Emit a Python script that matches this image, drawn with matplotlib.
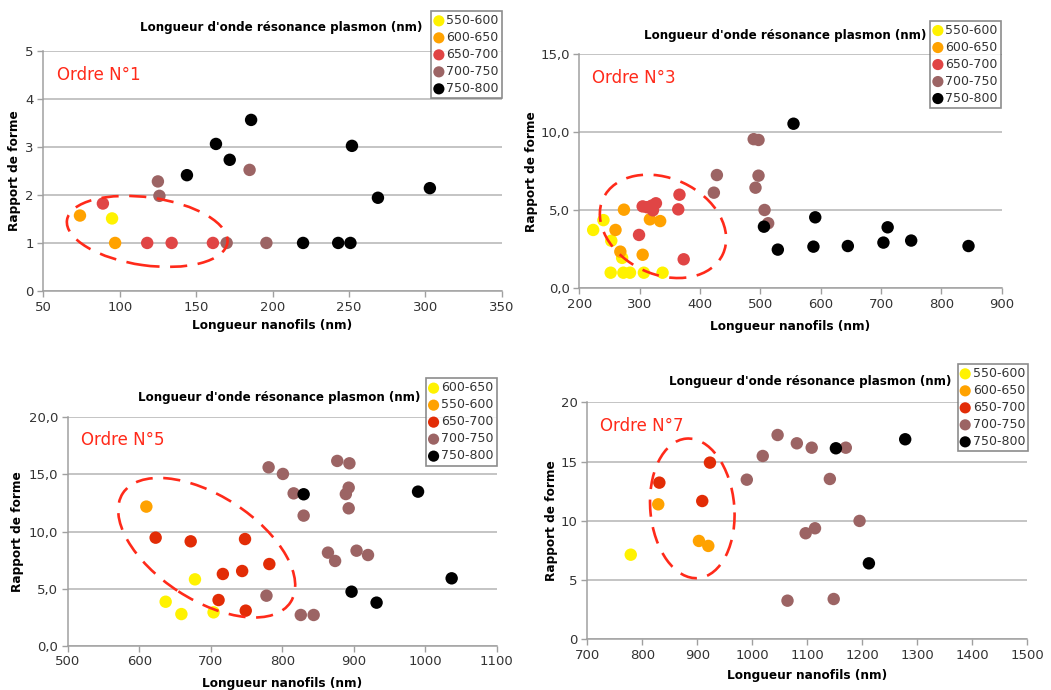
import matplotlib
matplotlib.use('Agg')
import matplotlib.pyplot as plt
from matplotlib.patches import Ellipse
from matplotlib.transforms import ScaledTranslation
from matplotlib.ticker import FuncFormatter

W, H = 1051, 690

YELLOW = '#fff200'
ORANGE = '#ffa200'
RED_A = '#e04545'
RED_B = '#e22c06'
BROWN = '#9c6464'
BLACK = '#000000'

# Ordre N°1
n1_labels = ['550-600', '600-650', '650-700', '700-750', '750-800']
n1_colors = [YELLOW, ORANGE, RED_A, BROWN, BLACK]
n1_x = [[95], [74, 97], [89, 118, 134, 161],
        [125, 126, 185, 170, 196],
        [186, 163, 172, 144, 252, 269, 303, 220, 243, 251]]
n1_y = [[1.51], [1.57, 1.0], [1.82, 1, 1, 1],
        [2.28, 1.98, 2.52, 1, 1],
        [3.56, 3.06, 2.73, 2.41, 3.02, 1.94, 2.14, 1, 1, 1]]

# Ordre N°3
n3_labels = ['550-600', '600-650', '650-700', '700-750', '750-800']
n3_colors = [YELLOW, ORANGE, RED_A, BROWN, BLACK]
n3_x = [[223, 240, 253, 271, 252, 273, 284, 307, 338],
        [274, 260, 268, 305, 317, 334],
        [305, 312, 320, 327, 322, 366, 364, 299, 373],
        [423, 428, 489, 497, 497, 492, 507, 513],
        [555, 506, 529, 591, 588, 645, 704, 711, 750, 845]]
n3_y = [[3.74, 4.37, 3.05, 1.95, 1, 1, 1, 1, 1],
        [5.04, 3.74, 2.35, 2.15, 4.42, 4.31],
        [5.25, 5.2, 5.3, 5.45, 5.0, 6.0, 5.06, 3.42, 1.86],
        [6.13, 7.26, 9.56, 9.51, 7.22, 6.45, 5.02, 4.17],
        [10.55, 3.95, 2.48, 4.55, 2.67, 2.71, 2.93, 3.91, 3.06, 2.71]]

# Ordre N°5 (legend labels as in the original: first two swapped)
n5_labels = ['600-650', '550-600', '650-700', '700-750', '750-800']
n5_colors = [YELLOW, ORANGE, RED_B, BROWN, BLACK]
n5_x = [[678, 637, 659, 704],
        [610],
        [623, 672, 748, 717, 744, 782, 711, 749],
        [781, 801, 816, 830, 877, 894, 893, 889, 893, 864, 874, 904, 920, 778, 826, 844],
        [830, 990, 897, 932, 1037]]
n5_y = [[5.81, 3.85, 2.77, 2.92],
        [12.18],
        [9.46, 9.14, 9.34, 6.28, 6.54, 7.15, 4.0, 3.07],
        [15.62, 15.04, 13.34, 11.39, 16.18, 15.97, 13.84, 13.28, 12.03, 8.15, 7.42, 8.32, 7.94, 4.38, 2.69, 2.69],
        [13.26, 13.49, 4.73, 3.77, 5.9]]

# Ordre N°7
n7_labels = ['550-600', '600-650', '650-700', '700-750', '750-800']
n7_colors = [YELLOW, ORANGE, RED_B, BROWN, BLACK]
n7_x = [[779], [829, 903, 920], [831, 909, 923],
        [990, 1019, 1046, 1081, 1108, 1170, 1141, 1097, 1114, 1195, 1064, 1148],
        [1152, 1278, 1212]]
n7_y = [[7.14], [11.39, 8.30, 7.88], [13.22, 11.67, 14.91],
        [13.47, 15.47, 17.24, 16.54, 16.17, 16.17, 13.53, 8.95, 9.37, 9.99, 3.26, 3.40],
        [16.12, 16.88, 6.41]]

TITLE = "Longueur d'onde résonance plasmon (nm)"
XLAB = 'Longueur nanofils (nm)'
YLAB = 'Rapport de forme'

fig = plt.figure(figsize=(W / 100, H / 100), dpi=100)
fig.patch.set_facecolor('white')


def fx(px):
    return px / W


def fy(py):
    return 1 - py / H


def comma(v, pos):
    return f'{v:.1f}'.replace('.', ',')


def panel(box, xs, ys, labels, colors, xlim, xticks, ylim, yticks, yfmt,
          order, title_xy, ylab_x, xlab_y, leg_corner, ell):
    l, r, t, b = box
    ax = fig.add_axes([fx(l), fy(b), (r - l) / W, (b - t) / H])
    for x, y, lab, c in zip(xs, ys, labels, colors):
        ax.scatter(x, y, s=80, color=c, label=lab, edgecolors='none', zorder=3)
    ax.set_xlim(*xlim)
    ax.set_ylim(*ylim)
    ax.set_xticks(xticks)
    ax.set_yticks(yticks)
    if yfmt:
        ax.yaxis.set_major_formatter(FuncFormatter(comma))
    ax.grid(axis='y', color='#b4b4b4', lw=1.1, zorder=0)
    ax.set_axisbelow(True)
    for s in ['top', 'right']:
        ax.spines[s].set_visible(False)
    for s in ['left', 'bottom']:
        ax.spines[s].set_color('#a0a0a0')
        ax.spines[s].set_linewidth(1.1)
    ax.tick_params(length=4, width=1, color='#a0a0a0', labelsize=9.5,
                   labelcolor='#333333', pad=3)
    ax.text(0.03, 0.9, order, transform=ax.transAxes, color='#ff2a1a',
            fontsize=12, va='center', ha='left')
    fig.text(fx(title_xy[0]), fy(title_xy[1]), TITLE, fontsize=8.6,
             fontweight='bold', ha='center', va='center')
    fig.text(fx(ylab_x), fy((t + b) / 2), YLAB, fontsize=8.7,
             fontweight='bold', ha='center', va='center', rotation=90)
    fig.text(fx((l + r) / 2), fy(xlab_y), XLAB, fontsize=8.7,
             fontweight='bold', ha='center', va='center')
    leg = ax.legend(loc='upper right', bbox_to_anchor=(fx(leg_corner[0]), fy(leg_corner[1])),
                    bbox_transform=fig.transFigure, fontsize=9, frameon=True,
                    fancybox=False, borderpad=0.25, labelspacing=0.32,
                    handlelength=0.7, handletextpad=0.25, borderaxespad=0,
                    markerscale=0.9, labelcolor='#333333')
    leg.get_frame().set_edgecolor('#707070')
    leg.get_frame().set_linewidth(1.2)
    # dashed ellipse: centre in data units, semi-axes in pixels
    cx, cy, a, bb, ang = ell
    tr = fig.dpi_scale_trans + ScaledTranslation(cx, cy, ax.transData)
    e = Ellipse((0, 0), 2 * a / 100, 2 * bb / 100, angle=ang, transform=tr,
                fill=False, edgecolor='#ff2a1a', lw=1.9,
                linestyle=(0, (6.5, 4.0)), zorder=4, clip_on=False)
    ax.add_patch(e)
    return ax


panel((43.3, 501.7, 50.7, 291), n1_x, n1_y, n1_labels, n1_colors,
      (50, 350), range(50, 351, 50), (0, 5), range(0, 6), False,
      'Ordre N°1', (281, 27), 15, 325, (502, 11),
      (118, 1.24, 81, 34, -8))

panel((579.3, 1001.7, 54.3, 288.3), n3_x, n3_y, n3_labels, n3_colors,
      (200, 900), range(200, 901, 100), (0, 15), [0, 5, 10, 15], True,
      'Ordre N°3', (785, 35), 532, 327, (1001, 20.7),
      (338.7, 3.97, 66, 48, -25))

panel((67.7, 496.7, 417.3, 645.7), n5_x, n5_y, n5_labels, n5_colors,
      (500, 1100), range(500, 1101, 100), (0, 20), [0, 5, 10, 15, 20], True,
      'Ordre N°5', (279, 397), 18, 684, (496.7, 378.3),
      (694.4, 8.58, 100, 52, -33))

panel((587.3, 1027.3, 402.3, 639.3), n7_x, n7_y, n7_labels, n7_colors,
      (700, 1500), range(700, 1501, 100), (0, 20), [0, 5, 10, 15, 20], False,
      'Ordre N°7', (810, 382), 552, 675, (1028.3, 364),
      (890.9, 11.05, 70, 42, 95))

fig.savefig('out.png', dpi=100, facecolor='white')
